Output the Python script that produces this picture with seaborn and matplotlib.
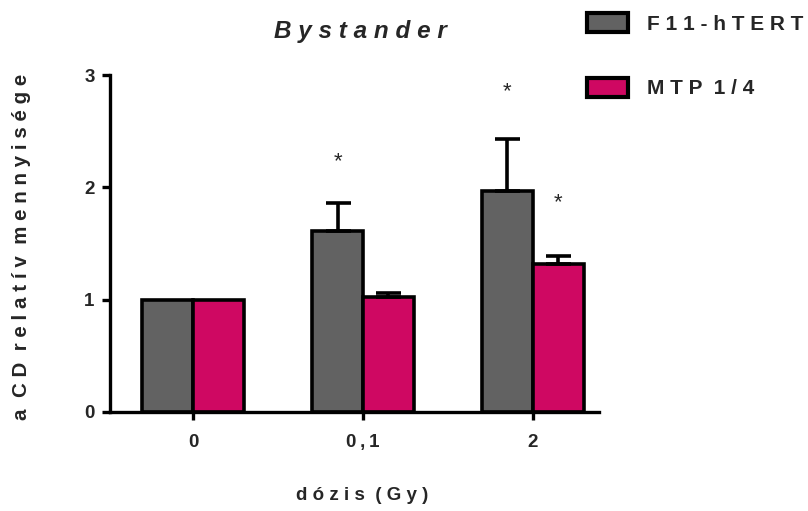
import matplotlib
matplotlib.use("Agg")
import matplotlib.pyplot as plt
import seaborn as sns
import pandas as pd
import numpy as np

# ---- data ----
doses = ["0", "0,1", "2"]
series = ["F11-hTERT", "MTP 1/4"]
f11_values = [1.0, 1.61, 1.97]
f11_err = [0.0, 0.25, 0.46]
mtp_values = [1.0, 1.02, 1.32]
mtp_err = [0.0, 0.04, 0.07]
# significance markers: (dose index, series index, y)
stars = [(1, 0, 2.23), (2, 0, 2.85), (2, 1, 1.86)]
colors = ["#626262", "#CF0862"]

def spaced(s, sep=" "):
    return ("  ").join(sep.join(w) for w in s.split(" "))

df = pd.DataFrame({
    "dose": doses * 2,
    "series": [series[0]] * 3 + [series[1]] * 3,
    "value": f11_values + mtp_values,
    "err": f11_err + mtp_err,
})

sns.set_style("white")
plt.rcParams["font.family"] = ["Liberation Sans", "DejaVu Sans"]
plt.rcParams["font.weight"] = "bold"

fig = plt.figure(figsize=(8.08, 5.11), dpi=100)
ax = fig.add_axes([110/808, 1-412/511, (599-110)/808, (412-75)/511])

sns.barplot(data=df, x="dose", y="value", hue="series", order=doses,
            hue_order=series, palette=colors, errorbar=None, width=0.6,
            edgecolor="black", linewidth=2.6, saturation=1, ax=ax)

# error bars (upper only)
for i, s in enumerate(series):
    cont = ax.containers[i]
    sub = df[df["series"] == s].set_index("dose").loc[doses]
    xs = [p.get_x() + p.get_width() / 2 for p in cont.patches]
    for x, v, e in zip(xs, sub["value"], sub["err"]):
        if e > 0:
            ax.errorbar([x], [v], yerr=[[0], [e]], fmt="none", ecolor="black",
                        elinewidth=2.6, capsize=9, capthick=2.6, zorder=1)

for di, si, y in stars:
    p = ax.containers[si].patches[di]
    ax.text(p.get_x() + p.get_width() / 2, y, "*", ha="center", va="center",
            fontsize=16, fontweight="normal")

ax.set_ylim(0, 3)
ax.set_xlim(-0.49, 2.39)
ax.set_yticks([0, 1, 2, 3])
ax.set_yticklabels(["0", "1", "2", "3"], fontsize=13.5, fontweight="bold")
ax.set_xticklabels([spaced(d, "\u2009") for d in doses], fontsize=13.5, fontweight="bold")
ax.set_xlabel("")
ax.set_ylabel("")
for side in ["top", "right"]:
    ax.spines[side].set_visible(False)
for side in ["left", "bottom"]:
    ax.spines[side].set_linewidth(2.4)
    ax.spines[side].set_color("black")
ax.tick_params(axis="both", which="both", direction="out", length=6, width=2.4,
               color="black", left=True, bottom=True)
ax.tick_params(axis="x", pad=10)
ax.tick_params(axis="y", pad=5)

# legend
handles, labels = ax.get_legend_handles_labels()
for h in handles:
    h.set_linewidth(3)
ax.legend(handles, [spaced(l) for l in labels], loc="upper left",
          bbox_to_anchor=(587/808, 1-13/511), bbox_transform=fig.transFigure,
          frameon=False, handlelength=1.95, handleheight=1.05,
          labelspacing=2.1, handletextpad=0.95, borderpad=0, borderaxespad=0,
          prop={"weight": "bold", "size": 15})

fig.text(360/808, 1-31/511, spaced("Bystander"), ha="center", va="center",
         fontsize=17.5, fontweight="bold", fontstyle="italic")
fig.text(362/808, 1-495/511, spaced("dózis (Gy)"), ha="center", va="center",
         fontsize=13.5, fontweight="bold")
fig.text(22/808, 1-247/511, spaced("a CD relatív mennyisége"), ha="center",
         va="center", rotation=90, fontsize=14.8, fontweight="bold")

fig.savefig("out.png", dpi=100)
